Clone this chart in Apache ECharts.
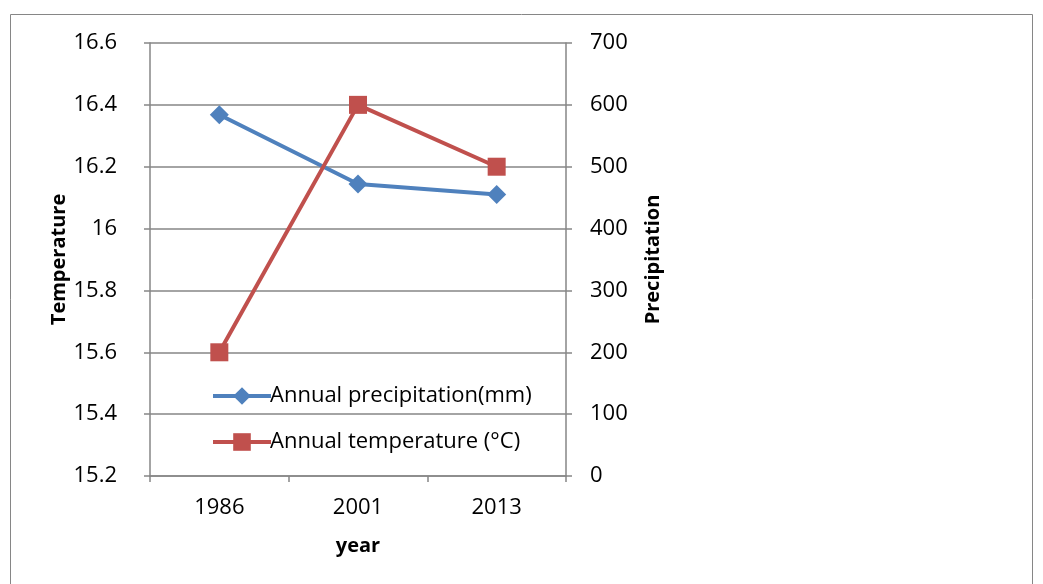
<!DOCTYPE html>
<html>
<head>
<meta charset="utf-8">
<script src="https://cdn.jsdelivr.net/npm/echarts@6/dist/echarts.min.js"></script>
<style>
html,body{margin:0;padding:0;background:#fff;}
#chart{width:1043px;height:584px;}
</style>
</head>
<body>
<div id="chart"></div>
<script>
var years = ['1986', '2001', '2013'];
var precipitation = [584, 472, 455];
var temperature = [15.6, 16.4, 16.2];
var tempTicks = {min: 15.2, max: 16.6, interval: 0.2};
var precTicks = {min: 0, max: 700, interval: 100};

var FONT = 'Open Sans';
var GRAY = '#868686';
var chart = echarts.init(document.getElementById('chart'));
chart.setOption({
  backgroundColor: '#fff',
  animation: false,
  graphic: [{
    type: 'rect', shape: {x: 10.5, y: 14.5, width: 1022, height: 600},
    style: {fill: 'none', stroke: GRAY, lineWidth: 1}, silent: true
  }],
  grid: {left: 150, right: 477, top: 43, bottom: 108},
  legend: {
    orient: 'vertical', left: 206, top: 380, itemGap: 24,
    itemWidth: 58, itemHeight: 22,
    lineStyle: {width: 4},
    textStyle: {fontFamily: FONT, fontSize: 22, color: '#000', padding: [0,0,0,-6]},
    data: ['Annual precipitation(mm)', 'Annual temperature (°C)']
  },
  xAxis: {
    type: 'category', data: years, boundaryGap: true,
    name: 'year', nameLocation: 'middle', nameGap: 60,
    nameTextStyle: {fontFamily: FONT, fontSize: 20, fontWeight: 'bold', color: '#000'},
    axisLine: {lineStyle: {color: GRAY, width: 1.5}},
    axisTick: {show: true, length: 6, inside: false, lineStyle: {color: GRAY, width: 1.5}},
    axisLabel: {fontFamily: FONT, fontSize: 22, color: '#000', margin: 21}
  },
  yAxis: [{
    type: 'value', position: 'left',
    min: tempTicks.min, max: tempTicks.max, interval: tempTicks.interval,
    name: 'Temperature', nameLocation: 'middle', nameGap: 81, nameRotate: 90,
    nameTextStyle: {fontFamily: FONT, fontSize: 20, fontWeight: 'bold', color: '#000'},
    axisLine: {show: true, lineStyle: {color: GRAY, width: 1.5}},
    axisTick: {show: true, length: 6, lineStyle: {color: GRAY, width: 1.5}},
    axisLabel: {fontFamily: FONT, fontSize: 22, color: '#000', margin: 33,
      formatter: function (v) { return (+v.toFixed(1)).toString(); }},
    splitLine: {show: true, lineStyle: {color: GRAY, width: 1.5}}
  }, {
    type: 'value', position: 'right',
    min: precTicks.min, max: precTicks.max, interval: precTicks.interval,
    name: 'Precipitation', nameLocation: 'middle', nameGap: 77, nameRotate: 90,
    nameTextStyle: {fontFamily: FONT, fontSize: 20, fontWeight: 'bold', color: '#000'},
    axisLine: {show: true, lineStyle: {color: GRAY, width: 1.5}},
    axisTick: {show: true, length: 6, lineStyle: {color: GRAY, width: 1.5}},
    axisLabel: {fontFamily: FONT, fontSize: 22, color: '#000', margin: 24},
    splitLine: {show: false}
  }],
  series: [{
    name: 'Annual precipitation(mm)', type: 'line', yAxisIndex: 1,
    data: precipitation, symbol: 'diamond', symbolSize: 19,
    lineStyle: {color: '#4F81BD', width: 4}, itemStyle: {color: '#4F81BD'}, z: 3
  }, {
    name: 'Annual temperature (°C)', type: 'line', yAxisIndex: 0,
    data: temperature, symbol: 'rect', symbolSize: 18,
    lineStyle: {color: '#C0504D', width: 4}, itemStyle: {color: '#C0504D'}, z: 4
  }]
});
</script>
</body>
</html>
